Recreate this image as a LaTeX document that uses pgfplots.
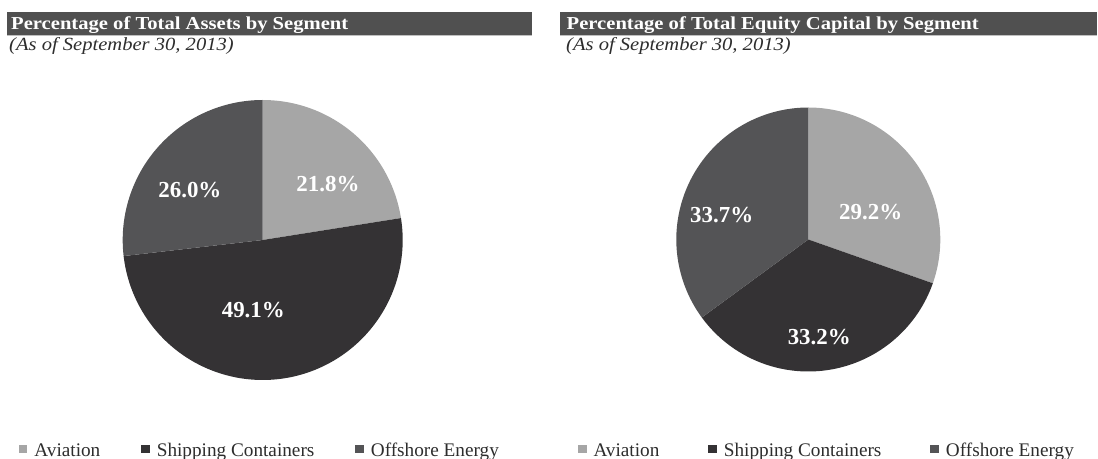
\documentclass[border=0pt]{standalone}
\usepackage{fontspec}
\setmainfont{Liberation Serif}
\usepackage{pgfplots}
\pgfplotsset{compat=1.18}
\definecolor{cAv}{RGB}{166,166,166}
\definecolor{cSh}{RGB}{52,50,52}
\definecolor{cOff}{RGB}{84,84,86}
\definecolor{cBar}{RGB}{80,80,80}
\definecolor{cTxt}{RGB}{45,45,45}
% Percentage of total assets: Aviation, Shipping Containers, Offshore Energy
\def\LAv{21.8}\def\LSh{49.1}\def\LOff{26.0}
% Percentage of total equity capital
\def\RAv{29.2}\def\RSh{33.2}\def\ROff{33.7}
\pgfmathsetmacro{\LT}{\LAv+\LSh+\LOff}
\pgfmathsetmacro{\La}{90-\LAv/\LT*360}
\pgfmathsetmacro{\Lb}{\La-\LSh/\LT*360}
\pgfmathsetmacro{\Lc}{\Lb-\LOff/\LT*360}
\pgfmathsetmacro{\RT}{\RAv+\RSh+\ROff}
\pgfmathsetmacro{\Ra}{90-\RAv/\RT*360}
\pgfmathsetmacro{\Rb}{\Ra-\RSh/\RT*360}
\pgfmathsetmacro{\Rc}{\Rb-\ROff/\RT*360}
\pgfplotsset{
  pieaxis/.style={
    hide axis, scale only axis, clip=false,
    xmin=-1, xmax=1, ymin=-1, ymax=1,
    anchor=center,
    legend columns=3,
    legend image code/.code={\fill[##1] (0bp,3.3bp) rectangle (8.5bp,11.8bp);},
    legend style={draw=none, fill=none, inner sep=0pt, outer sep=0pt,
      font=\fontsize{19.3}{19.3}\selectfont, text=cTxt,
      nodes={inner sep=0pt, anchor=base west},
      /tikz/every odd column/.append style={column sep=7bp},
      anchor=west},
  }
}
\tikzset{lab/.style={text=white, font=\bfseries\fontsize{23}{23}\selectfont, inner sep=0pt},
  ttl/.style={anchor=base west, text=white, font=\bfseries\fontsize{18.3}{18.3}\selectfont, inner sep=0pt, xscale=1.13},
  sub/.style={anchor=base west, text=cTxt, font=\itshape\fontsize{18.6}{18.6}\selectfont, inner sep=0pt, xscale=1.11}}
\begin{document}
\begin{tikzpicture}
\useasboundingbox (0,0) rectangle (1098bp,459bp);
% titles
\fill[cBar] (7bp,424bp) rectangle (531.7bp,447bp);
\fill[black!25] (7bp,422.5bp) rectangle (531.7bp,424bp);
\node[ttl] at (11bp,429.8bp) {Percentage of Total Assets by Segment};
\node[sub] at (9bp,408.5bp) {(As of September 30, 2013)};
\fill[cBar] (560bp,424bp) rectangle (1097bp,447bp);
\fill[black!25] (560bp,422.5bp) rectangle (1097bp,424bp);
\node[ttl] at (566.5bp,429.8bp) {Percentage of Total Equity Capital by Segment};
\node[sub] at (566bp,408.5bp) {(As of September 30, 2013)};

\begin{axis}[pieaxis, width=280bp, height=280bp, at={(262.7bp,219bp)},
  legend style={at={(-0.3704,-0.2521)}, /tikz/every even column/.append style={column sep=41bp}}]
\addplot[fill=cAv, draw=none, domain=\La:90, samples=120, variable=\t] ({cos(\t)},{sin(\t)}) -- (axis cs:0,0) -- cycle;
\addlegendentry{Aviation}
\addplot[fill=cSh, draw=none, domain=\Lb:\La, samples=200, variable=\t] ({cos(\t)},{sin(\t)}) -- (axis cs:0,0) -- cycle;
\addlegendentry{Shipping Containers}
\addplot[fill=cOff, draw=none, domain=\Lc:\Lb, samples=120, variable=\t] ({cos(\t)},{sin(\t)}) -- (axis cs:0,0) -- cycle;
\addlegendentry{Offshore Energy}
\node[lab] at (axis cs:0.466,0.40) {21.8\%};
\node[lab] at (axis cs:-0.52,0.357) {26.0\%};
\node[lab] at (axis cs:-0.067,-0.5) {49.1\%};
\end{axis}

\begin{axis}[pieaxis, width=264bp, height=264bp, at={(808.3bp,219.5bp)},
  legend style={at={(-0.3723,-0.2996)}, /tikz/every even column/.append style={column sep=49bp}}]
\addplot[fill=cAv, draw=none, domain=\Ra:90, samples=120, variable=\t] ({cos(\t)},{sin(\t)}) -- (axis cs:0,0) -- cycle;
\addlegendentry{Aviation}
\addplot[fill=cSh, draw=none, domain=\Rb:\Ra, samples=120, variable=\t] ({cos(\t)},{sin(\t)}) -- (axis cs:0,0) -- cycle;
\addlegendentry{Shipping Containers}
\addplot[fill=cOff, draw=none, domain=\Rc:\Rb, samples=120, variable=\t] ({cos(\t)},{sin(\t)}) -- (axis cs:0,0) -- cycle;
\addlegendentry{Offshore Energy}
\node[lab] at (axis cs:0.473,0.21) {29.2\%};
\node[lab] at (axis cs:-0.656,0.186) {33.7\%};
\node[lab] at (axis cs:0.083,-0.736) {33.2\%};
\end{axis}
\end{tikzpicture}
\end{document}
